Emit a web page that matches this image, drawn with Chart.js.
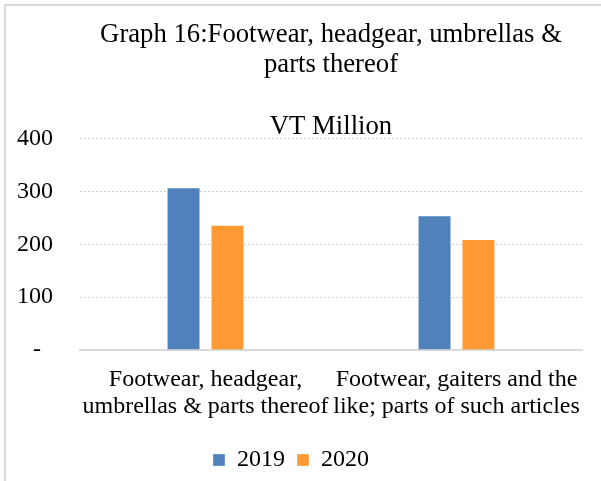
<!DOCTYPE html>
<html>
<head>
<meta charset="utf-8">
<script src="https://cdn.jsdelivr.net/npm/chart.js@4.4.1/dist/chart.umd.min.js"></script>
<style>
  html, body { margin: 0; padding: 0; background: #ffffff; overflow: hidden; }
  #wrap { position: relative; width: 601px; height: 481px; }
  #frame { position: absolute; left: 4px; top: 4px; width: 700px; height: 600px;
           border-left: 2px solid #d9d9d9; border-top: 2px solid #d9d9d9; }
  #c { position: absolute; left: 0; top: 0; }
</style>
</head>
<body>
<div id="wrap">
  <div id="frame"></div>
  <canvas id="c" width="601" height="481"></canvas>
</div>
<script>
const titleLines = ['Graph 16:Footwear, headgear, umbrellas &', 'parts thereof'];
const subtitleText = 'VT Million';
const categories = [
  ['Footwear, headgear,', 'umbrellas & parts thereof'],
  ['Footwear, gaiters and the', 'like; parts of such articles']
];
const seriesNames = ['2019', '2020'];
const values2019 = [308, 255];
const values2020 = [237, 210];
const yTicks = [0, 100, 200, 300, 400];

const serif = "'Liberation Serif', 'Times New Roman', serif";

new Chart(document.getElementById('c'), {
  type: 'bar',
  data: {
    labels: categories,
    datasets: [
      { label: seriesNames[0], data: values2019, backgroundColor: '#4f81bd',
        borderColor: 'rgba(255,255,255,0.35)', borderWidth: 1 },
      { label: seriesNames[1], data: values2020, backgroundColor: '#ff9933',
        borderColor: 'rgba(255,255,255,0.35)', borderWidth: 1 }
    ]
  },
  options: {
    responsive: false,
    devicePixelRatio: 1,
    animation: false,
    categoryPercentage: 0.35,
    barPercentage: 0.773,
    layout: { padding: { top: 20, left: 0, right: 19, bottom: -1 } },
    plugins: {
      title: {
        display: true, fullSize: false,
        text: titleLines,
        color: '#000000',
        font: { family: serif, size: 26.7, weight: 'normal', lineHeight: 1.124 },
        padding: { top: 0, bottom: 0 }
      },
      subtitle: {
        display: true, fullSize: false,
        text: subtitleText,
        color: '#000000',
        font: { family: serif, size: 26.7, weight: 'normal', lineHeight: 0.85 },
        padding: { top: 36, bottom: 0 }
      },
      legend: {
        display: true,
        position: 'bottom',
        labels: {
          color: '#000000',
          font: { family: serif, size: 24 },
          boxWidth: 12, boxHeight: 12,
          padding: 12
        }
      },
      tooltip: { enabled: false }
    },
    scales: {
      x: {
        grid: { display: false, drawTicks: false },
        border: { display: true, color: '#d9d9d9', width: 2 },
        ticks: {
          color: '#000000',
          font: { family: serif, size: 24, lineHeight: 1.125 },
          padding: 16,
          maxRotation: 0, autoSkip: false
        }
      },
      y: {
        min: 0, max: 400,
        afterBuildTicks: s => { s.ticks = yTicks.map(v => ({ value: v })); },
        afterFit: s => { s.width = 80; },
        grid: { color: '#cfcfcf', lineWidth: 1, drawTicks: false },
        border: { display: false, dash: [2, 2] },
        ticks: {
          color: '#000000',
          font: { family: serif, size: 24 },
          padding: 27,
          callback: v => v === 0 ? '-\u2007' : String(v)
        }
      }
    }
  },
  plugins: []
});
</script>
</body>
</html>
